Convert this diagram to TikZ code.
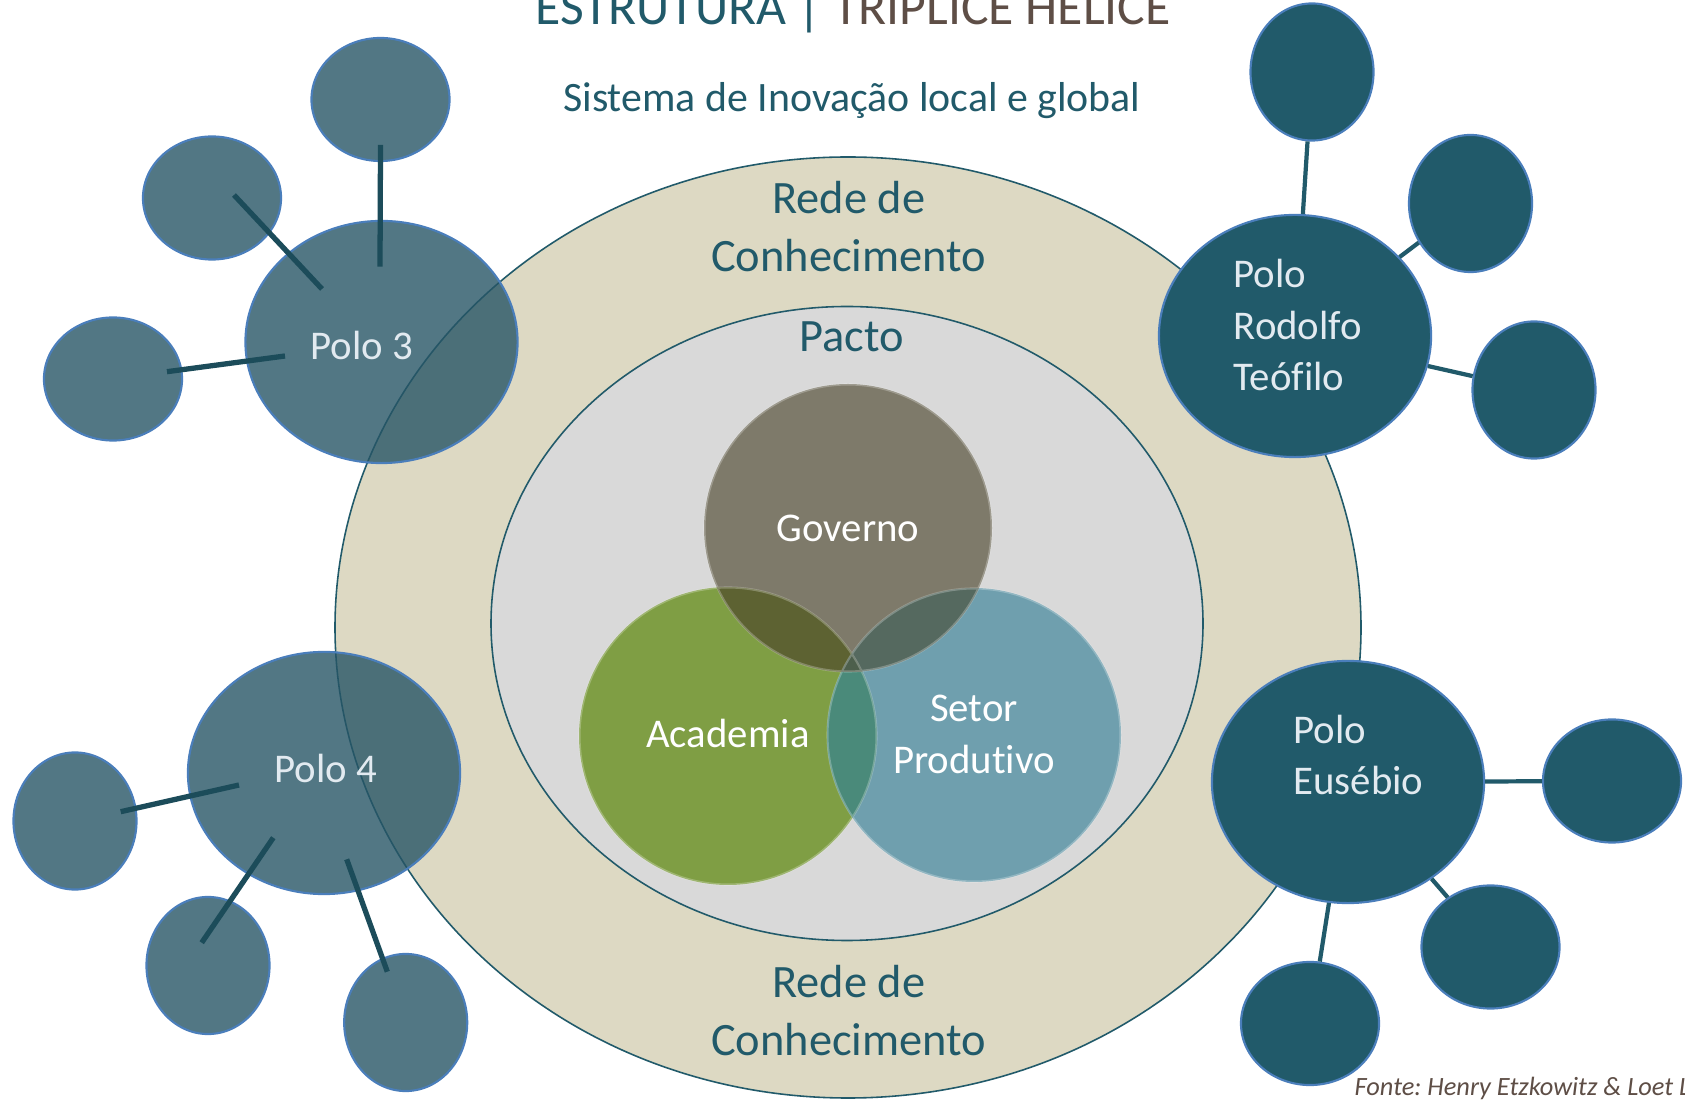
\documentclass[tikz,border=0pt]{standalone}
\usepackage{fontspec}
\setmainfont[Ligatures=NoCommon]{Carlito}
\frenchspacing
\usetikzlibrary{shapes.geometric,calc}
\definecolor{petrol}{HTML}{215A6A}
\definecolor{petrolfade}{HTML}{275566}
\definecolor{poloedge}{HTML}{4A7EBB}
\definecolor{polotext}{HTML}{E2EAF0}
\definecolor{brownish}{HTML}{5E4E46}
\definecolor{beige}{HTML}{DDD9C3}
\definecolor{pactogray}{HTML}{D9D9D9}
\definecolor{govcol}{HTML}{7E7A6A}
\definecolor{acadcol}{HTML}{7F9E44}
\definecolor{setorcol}{HTML}{6F9FAE}
\definecolor{govacad}{HTML}{5D6232}
\definecolor{govsetor}{HTML}{55695F}
\definecolor{acadsetor}{HTML}{4A8A7A}
\definecolor{allthree}{HTML}{4D5F4C}
\tikzset{
  polo/.style={ellipse,draw=poloedge,line width=0.6pt,fill=petrol,inner sep=0pt,
    minimum width=2.72cm,minimum height=2.42cm},
  polofade/.style={polo,fill=petrolfade,fill opacity=0.8},
  satw/.style={minimum width=1.38cm,minimum height=1.23cm},
  satt/.style={minimum width=1.23cm,minimum height=1.37cm},
  link/.style={petrol,line width=1.2pt},
  spoke/.style={petrol!85!black,line width=1.5pt},
  txt/.style={font=\fontsize{11.6}{14.65}\selectfont,inner sep=0pt},
  rede/.style={font=\fontsize{13.2}{16.3}\selectfont,text=petrol,align=center},
  ring/.style={draw=petrol,line width=0.45pt},
  venn/.style={draw=white,draw opacity=0.25,line width=0.6pt}
}
\begin{document}
\begin{tikzpicture}[x=0.01cm,y=-0.01cm]
  \useasboundingbox (0,0) rectangle (1685,1101);
  \fill[white] (0,0) rectangle (1685,1101);
  \draw[ring,fill=beige]     (848,627.5) ellipse [x radius=513,y radius=470.5];
  \draw[ring,fill=pactogray] (847,623.5) ellipse [x radius=356,y radius=317];
  \node[rede] (rede1) at (848.7,226.5) {Rede de\\Conhecimento};
  \node[rede] (rede2) at (848.7,1010.5) {Rede de\\Conhecimento};
  \node[rede,anchor=base] (pacto) at (851.5,352) {Pacto};

  \coordinate (gov)   at (848,528);
  \coordinate (acad)  at (728,736);
  \coordinate (setor) at (974,735);
  \fill[acadcol]  (acad)  circle [radius=149];
  \fill[setorcol] (setor) circle [radius=147];
  \begin{scope}
    \clip (acad) circle [radius=149];
    \fill[acadsetor] (setor) circle [radius=147];
  \end{scope}
  \fill[govcol] (gov) circle [radius=144];
  \begin{scope}
    \clip (gov) circle [radius=144];
    \fill[govacad]  (acad)  circle [radius=149];
    \fill[govsetor] (setor) circle [radius=147];
    \clip (acad) circle [radius=149];
    \fill[allthree] (setor) circle [radius=147];
  \end{scope}
  \draw[venn] (acad) circle [radius=148.5] (setor) circle [radius=146.5] (gov) circle [radius=143.5];
  \node[txt,text=white,anchor=base] (govtxt)   at (848,541.7) {Governo};
  \node[txt,text=white,anchor=base] (acadtxt)  at (728,748) {Academia};
  \node[txt,text=white,align=center] (setortxt) at (974,734.5) {Setor\\Produtivo};

  \node[polo]      (rt)  at (1295,336) {};
  \node[polo,satt] (rt1) at (1312,72) {};
  \node[polo,satt] (rt2) at (1470.5,203.5) {};
  \node[polo,satt] (rt3) at (1534,390) {};
  \foreach \s in {rt1,rt2,rt3} \draw[link] (rt) -- (\s);
  \node[txt,text=polotext,align=left,anchor=west] (rttxt) at (1233,325) {Polo\\Rodolfo\\Teófilo};

  \node[polo]      (eu)  at (1348,782) {};
  \node[polo,satw] (eu1) at (1612,781) {};
  \node[polo,satw] (eu2) at (1490.5,947) {};
  \node[polo,satw] (eu3) at (1310,1023.5) {};
  \foreach \s in {eu1,eu2,eu3} \draw[link] (eu) -- (\s);
  \node[txt,text=polotext,align=left,anchor=west] (eutxt) at (1292.7,755) {Polo\\Eusébio};

  \node[polofade]      (p3)  at (381.5,342) {};
  \node[polofade,satw] (p3a) at (380.5,99.5) {};
  \node[polofade,satw] (p3b) at (212,198) {};
  \node[polofade,satw] (p3c) at (113,379) {};
  \foreach \s/\a/\b in {p3a/{0,45.5}/{-1.5,-75.3}, p3b/{22,-3}/{-59.5,-53}, p3c/{54,-7.3}/{-96.5,14}}
    \draw[spoke] ($(\s)+(\a)$) -- ($(p3)+(\b)$);
  \node[txt,text=polotext,anchor=base] (p3txt) at (361.6,360) {Polo 3};

  \node[polofade]      (p4)  at (324,773) {};
  \node[polofade,satt] (p4a) at (75,821) {};
  \node[polofade,satt] (p4b) at (208,965.5) {};
  \node[polofade,satt] (p4c) at (405.7,1022.5) {};
  \foreach \s/\a/\b in {p4a/{45.7,-9.3}/{-85,12}, p4b/{-6.3,-22.8}/{-50.7,64.7}, p4c/{-18.4,-50.8}/{22.7,86.3}}
    \draw[spoke] ($(\s)+(\a)$) -- ($(p4)+(\b)$);
  \node[txt,text=polotext,anchor=base] (p4txt) at (325.5,782.7) {Polo 4};

  \node[anchor=base,font=\fontsize{14.7}{17}\selectfont,text=petrol] (titulo) at (853,25)
    {ESTRUTURA | \textcolor{brownish}{TRÍPLICE HÉLICE}};
  \node[anchor=base,font=\fontsize{11.9}{14}\selectfont,text=petrol] (subtitulo) at (852,112)
    {Sistema de Inovação local e global};
  \node[anchor=base west,inner sep=0pt,font=\fontsize{7.5}{9}\selectfont\itshape,text=brownish] (fonte) at (1354,1095)
    {Fonte: Henry Etzkowitz \& Loet L};
\end{tikzpicture}
\end{document}
